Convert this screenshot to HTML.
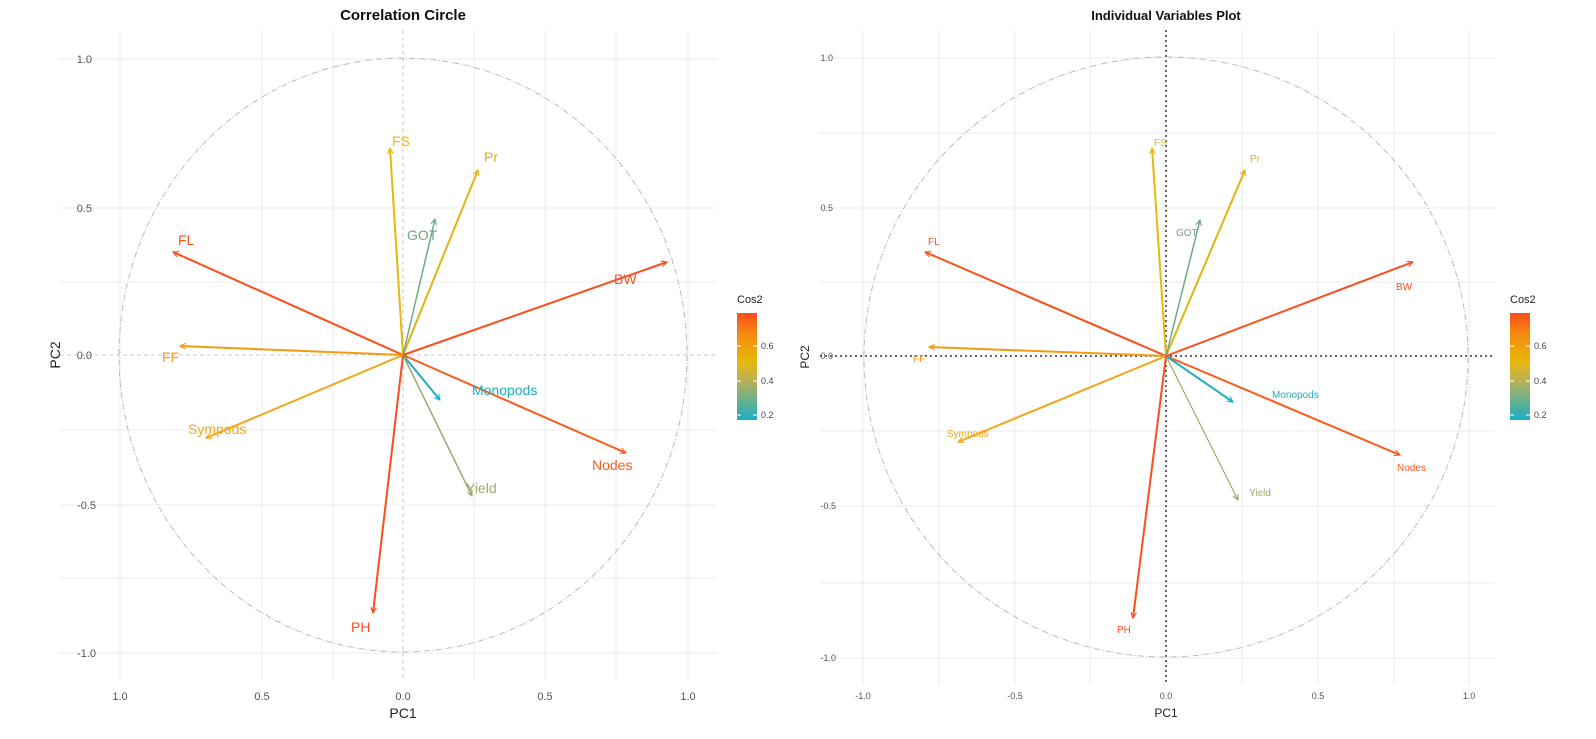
<!DOCTYPE html>
<html><head><meta charset="utf-8"><style>
body{margin:0;background:#fff;}
svg{display:block;font-family:"Liberation Sans",sans-serif;}
</style></head><body>
<svg width="1596" height="739" viewBox="0 0 1596 739" xmlns="http://www.w3.org/2000/svg">
<defs>
<linearGradient id="cb" x1="0" y1="1" x2="0" y2="0">
<stop offset="0" stop-color="#1BAFC0"/><stop offset="0.35" stop-color="#B3B060"/>
<stop offset="0.55" stop-color="#E8B80A"/><stop offset="0.8" stop-color="#F58A10"/><stop offset="1" stop-color="#FC4E1B"/>
</linearGradient>
<marker id="ah" viewBox="0 0 10 10" refX="9" refY="5" markerWidth="7" markerHeight="7" orient="auto-start-reverse" markerUnits="userSpaceOnUse"><path d="M1,1 L9,5 L1,9" fill="none" stroke="context-stroke" stroke-width="1.6"/></marker>
</defs>
<!-- LEFT PANEL grid -->
<g stroke="#ebebeb" stroke-width="1">
<line x1="120" y1="30" x2="120" y2="680"/><line x1="262" y1="30" x2="262" y2="680"/><line x1="545" y1="30" x2="545" y2="680"/><line x1="688" y1="30" x2="688" y2="680"/>
<line x1="60" y1="59" x2="716" y2="59"/><line x1="60" y1="208" x2="716" y2="208"/><line x1="60" y1="505" x2="716" y2="505"/><line x1="60" y1="653" x2="716" y2="653"/>
<line x1="60" y1="282" x2="716" y2="282"/><line x1="60" y1="430" x2="716" y2="430"/><line x1="60" y1="578" x2="716" y2="578"/>
<line x1="333" y1="30" x2="333" y2="680"/><line x1="474" y1="30" x2="474" y2="680"/><line x1="616" y1="30" x2="616" y2="680"/>
</g>
<line x1="403" y1="30" x2="403" y2="680" stroke="#c8c8c8" stroke-dasharray="4,3"/>
<line x1="60" y1="355" x2="716" y2="355" stroke="#c8c8c8" stroke-dasharray="4,3"/>
<ellipse cx="403" cy="355" rx="284" ry="297" fill="none" stroke="#bbb" stroke-dasharray="6,2,1,2"/>
<text x="403" y="20" font-size="15" font-weight="bold" text-anchor="middle" fill="#111">Correlation Circle</text>
<g font-size="11" fill="#555" text-anchor="end"><text x="92" y="63">1.0</text><text x="92" y="212">0.5</text><text x="92" y="359">0.0</text><text x="96" y="509">-0.5</text><text x="96" y="657">-1.0</text></g>
<g font-size="11" fill="#555" text-anchor="middle"><text x="120" y="700">1.0</text><text x="262" y="700">0.5</text><text x="403" y="700">0.0</text><text x="545" y="700">0.5</text><text x="688" y="700">1.0</text></g>
<text x="403" y="718" font-size="14" text-anchor="middle" fill="#222">PC1</text>
<text transform="translate(60,355) rotate(-90)" font-size="14" text-anchor="middle" fill="#222">PC2</text>
<g stroke-width="2" marker-end="url(#ah)" fill="none">
<line x1="403" y1="355" x2="390" y2="148" stroke="#E8B80A"/>
<line x1="403" y1="355" x2="478" y2="170" stroke="#E3B40E"/>
<line x1="403" y1="355" x2="435" y2="219" stroke="#6FA88A" stroke-width="1.5"/>
<line x1="403" y1="355" x2="173" y2="252" stroke="#FC4E1B"/>
<line x1="403" y1="355" x2="667" y2="262" stroke="#FC4E1B"/>
<line x1="403" y1="355" x2="180" y2="346" stroke="#F59A10"/>
<line x1="403" y1="355" x2="206" y2="438" stroke="#F0A81A"/>
<line x1="403" y1="355" x2="626" y2="453" stroke="#FC5A1B"/>
<line x1="403" y1="355" x2="440" y2="400" stroke="#1BAFC0"/>
<line x1="403" y1="355" x2="472" y2="496" stroke="#9AAA70" stroke-width="1.5"/>
<line x1="403" y1="355" x2="373" y2="613" stroke="#FC4E1B"/>
</g>
<g font-size="14">
<text x="392" y="146" fill="#E8B80A">FS</text><text x="484" y="162" fill="#E3B40E">Pr</text>
<text x="407" y="240" fill="#6FA88A">GOT</text><text x="178" y="245" fill="#FC4E1B">FL</text>
<text x="614" y="284" fill="#FC4E1B">BW</text><text x="162" y="362" fill="#F59A10">FF</text>
<text x="188" y="434" fill="#F0A81A">Sympods</text><text x="472" y="395" fill="#1BAFC0">Monopods</text>
<text x="592" y="470" fill="#FC5A1B">Nodes</text><text x="466" y="493" fill="#9AAA70">Yield</text>
<text x="351" y="632" fill="#FC4E1B">PH</text>
</g>
<text x="737" y="303" font-size="11" fill="#222">Cos2</text>
<rect x="737" y="313" width="20" height="107" fill="url(#cb)"/>
<g stroke="#fff" stroke-width="1"><line x1="737" y1="346" x2="741" y2="346"/><line x1="753" y1="346" x2="757" y2="346"/><line x1="737" y1="381" x2="741" y2="381"/><line x1="753" y1="381" x2="757" y2="381"/><line x1="737" y1="415" x2="741" y2="415"/><line x1="753" y1="415" x2="757" y2="415"/></g>
<g font-size="9" fill="#444"><text x="761" y="349">0.6</text><text x="761" y="384">0.4</text><text x="761" y="418">0.2</text></g>

<!-- RIGHT PANEL -->
<g stroke="#ebebeb" stroke-width="1">
<line x1="863" y1="30" x2="863" y2="685"/><line x1="1015" y1="30" x2="1015" y2="685"/><line x1="1318" y1="30" x2="1318" y2="685"/><line x1="1469" y1="30" x2="1469" y2="685"/>
<line x1="939" y1="30" x2="939" y2="685"/><line x1="1090" y1="30" x2="1090" y2="685"/><line x1="1242" y1="30" x2="1242" y2="685"/><line x1="1394" y1="30" x2="1394" y2="685"/>
<line x1="820" y1="58" x2="1495" y2="58"/><line x1="820" y1="208" x2="1495" y2="208"/><line x1="820" y1="506" x2="1495" y2="506"/><line x1="820" y1="658" x2="1495" y2="658"/>
<line x1="820" y1="133" x2="1495" y2="133"/><line x1="820" y1="282" x2="1495" y2="282"/><line x1="820" y1="431" x2="1495" y2="431"/><line x1="820" y1="583" x2="1495" y2="583"/>
</g>
<line x1="1166" y1="30" x2="1166" y2="685" stroke="#333" stroke-width="1.5" stroke-dasharray="2,3"/>
<line x1="820" y1="356" x2="1495" y2="356" stroke="#333" stroke-width="1.5" stroke-dasharray="2,3"/>
<ellipse cx="1166" cy="357" rx="302" ry="300" fill="none" stroke="#bbb" stroke-dasharray="6,2,1,2"/>
<text x="1166" y="20" font-size="13" font-weight="bold" text-anchor="middle" fill="#111">Individual Variables Plot</text>
<g font-size="9" fill="#555" text-anchor="end"><text x="833" y="61">1.0</text><text x="833" y="211">0.5</text><text x="833" y="359">0.0</text><text x="836" y="509">-0.5</text><text x="836" y="661">-1.0</text></g>
<g font-size="9" fill="#555" text-anchor="middle"><text x="863" y="699">-1.0</text><text x="1015" y="699">-0.5</text><text x="1166" y="699">0.0</text><text x="1318" y="699">0.5</text><text x="1469" y="699">1.0</text></g>
<text x="1166" y="717" font-size="12" text-anchor="middle" fill="#222">PC1</text>
<text transform="translate(809,357) rotate(-90)" font-size="12" text-anchor="middle" fill="#222">PC2</text>
<g stroke-width="2" marker-end="url(#ah)" fill="none">
<line x1="1166" y1="356" x2="1152" y2="148" stroke="#E8B80A"/>
<line x1="1166" y1="356" x2="1245" y2="170" stroke="#E3B40E"/>
<line x1="1166" y1="356" x2="1200" y2="220" stroke="#6FA88A" stroke-width="1.5"/>
<line x1="1166" y1="356" x2="925" y2="252" stroke="#FC4E1B"/>
<line x1="1166" y1="356" x2="1413" y2="262" stroke="#FC4E1B"/>
<line x1="1166" y1="356" x2="929" y2="347" stroke="#F59A10"/>
<line x1="1166" y1="356" x2="958" y2="442" stroke="#F0A81A"/>
<line x1="1166" y1="356" x2="1400" y2="455" stroke="#FC5A1B"/>
<line x1="1166" y1="356" x2="1233" y2="402" stroke="#1BAFC0"/>
<line x1="1166" y1="356" x2="1238" y2="500" stroke="#9AAA70" stroke-width="1.2"/>
<line x1="1166" y1="356" x2="1133" y2="618" stroke="#FC4E1B"/>
</g>
<g font-size="10">
<text x="1154" y="146" fill="#E8B80A">FS</text><text x="1250" y="162" fill="#E3B40E">Pr</text>
<text x="1176" y="236" fill="#6FA88A">GOT</text><text x="928" y="245" fill="#FC4E1B">FL</text>
<text x="1396" y="290" fill="#FC4E1B">BW</text><text x="913" y="362" fill="#F59A10">FF</text>
<text x="947" y="437" fill="#F0A81A">Sympods</text><text x="1272" y="398" fill="#1BAFC0">Monopods</text>
<text x="1397" y="471" fill="#FC5A1B">Nodes</text><text x="1260" y="496" fill="#9AAA70" text-anchor="middle">Yield</text>
<text x="1117" y="633" fill="#FC4E1B">PH</text>
</g>
<text x="1510" y="303" font-size="11" fill="#222">Cos2</text>
<rect x="1510" y="313" width="20" height="107" fill="url(#cb)"/>
<g stroke="#fff" stroke-width="1"><line x1="1510" y1="346" x2="1514" y2="346"/><line x1="1526" y1="346" x2="1530" y2="346"/><line x1="1510" y1="381" x2="1514" y2="381"/><line x1="1526" y1="381" x2="1530" y2="381"/><line x1="1510" y1="415" x2="1514" y2="415"/><line x1="1526" y1="415" x2="1530" y2="415"/></g>
<g font-size="9" fill="#444"><text x="1534" y="349">0.6</text><text x="1534" y="384">0.4</text><text x="1534" y="418">0.2</text></g>
</svg>
</body></html>
